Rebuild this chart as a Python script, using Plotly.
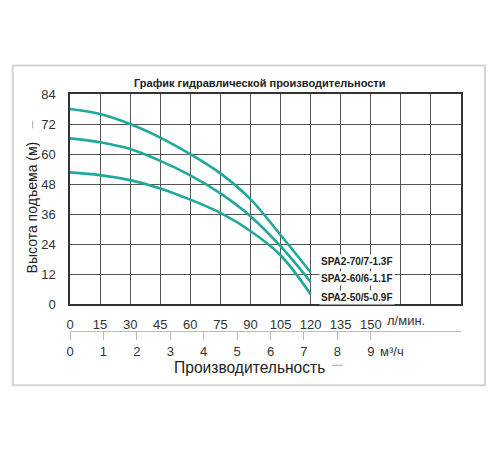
import plotly.graph_objects as go

# расход, л/мин
flow_lpm = [0, 15, 30, 45, 60, 75, 90, 105, 120]

# напор, м
head_70 = [78, 76, 72, 66.6, 60, 52.3, 42, 27.7, 12.8]
head_60 = [66.3, 64.7, 62, 57.3, 51.5, 44.3, 35.2, 23.2, 8.9]
head_50 = [52.7, 51.6, 49.6, 46.3, 41.8, 36.5, 29.3, 19.6, 4.0]

models = ["SPA2-70/7-1.3F", "SPA2-60/6-1.1F", "SPA2-50/5-0.9F"]
label_y = [17.3, 10.3, 2.9]

lpm_ticks = list(range(0, 196, 15))
lpm_text = [str(v) if v <= 150 else "" for v in lpm_ticks]

m3h_ticks = list(range(0, 10))
y_ticks = list(range(0, 85, 12))

teal = "#1fa89b"
font = "Liberation Sans, Arial, sans-serif"

fig = go.Figure()

for h in [head_70, head_60, head_50]:
    fig.add_trace(go.Scatter(
        x=flow_lpm, y=h,
        mode="lines",
        line=dict(color=teal, width=2.6, shape="spline"),
        showlegend=False,
        hoverinfo="skip"
    ))

# dummy trace for the m3/h axis
fig.add_trace(go.Scatter(x=[0], y=[0], xaxis="x2", yaxis="y",
                         mode="markers", marker=dict(opacity=0),
                         showlegend=False, hoverinfo="skip"))

for name, yy in zip(models, label_y):
    fig.add_annotation(
        x=143, y=yy, text="<b>" + name + "</b>",
        showarrow=False, bgcolor="white", borderpad=1,
        font=dict(family=font, size=10, color="#222")
    )

# -------------------------------------------------
# TEXTS / DECORATION
# -------------------------------------------------
def note(x, y, text, size, **kw):
    fig.add_annotation(
        xref="paper", yref="paper", x=x, y=y, text=text,
        showarrow=False, xanchor=kw.pop("xanchor", "center"),
        yanchor="middle", font=dict(family=font, size=size,
                                    color=kw.pop("color", "#222")),
        **kw
    )

note(0.486, 1.0485, "<b>График гидравлической производительности</b>", 11)
note(-0.0985, 0.5236, "Высота подъема (м)", 14, textangle=-90)
note(0.459, -0.155, "Производительность", 15.6)
note(0.788, -0.085, "м³/ч", 13, color="#333", xanchor="left")
note(0.806, 0.045, "л/мин.", 13, color="#333", xanchor="left")

fig.add_shape(type="rect", xref="paper", yref="paper",
              x0=-0.1465, x1=1.0614, y0=-0.229, y1=1.120,
              line=dict(color="#d4d4d4", width=2), layer="below")
fig.add_shape(type="line", xref="paper", yref="paper",
              x0=0.670, x1=0.698, y0=-0.1446, y1=-0.1446,
              line=dict(color="#aaa", width=1))
fig.add_shape(type="line", xref="paper", yref="paper",
              x0=-0.0954, x1=-0.0954, y0=0.855, y1=0.888,
              line=dict(color="#aaa", width=1))

fig.update_layout(
    width=492, height=442,
    margin=dict(l=62, r=39, t=85.5, b=119.3),
    paper_bgcolor="white", plot_bgcolor="white",
    font=dict(family=font, size=13, color="#333"),
    xaxis=dict(
        range=[0, 195], tickvals=lpm_ticks, ticktext=lpm_text,
        tickangle=0, automargin=False,
        showgrid=True, gridcolor="#555", gridwidth=1,
        showline=True, linecolor="#333", linewidth=1.5, mirror=True,
        ticks="outside", ticklen=7, tickcolor="rgba(0,0,0,0)",
        zeroline=False, fixedrange=True
    ),
    xaxis2=dict(
        range=[0, 11.7], tickvals=m3h_ticks,
        tickangle=0, automargin=False,
        anchor="free", position=0, overlaying="x", side="bottom",
        showgrid=False, showline=True, linecolor="#bbb", linewidth=1,
        ticks="outside", ticklen=8, tickcolor="#bbb",
        zeroline=False, fixedrange=True
    ),
    yaxis=dict(
        domain=[0.1126, 1], range=[0, 84], tickvals=y_ticks,
        automargin=False,
        showgrid=True, gridcolor="#555", gridwidth=1,
        showline=True, linecolor="#333", linewidth=1.5, mirror=True,
        ticks="outside", ticklen=10, tickcolor="rgba(0,0,0,0)",
        zeroline=False, fixedrange=True
    )
)

fig.write_html("out.html")
